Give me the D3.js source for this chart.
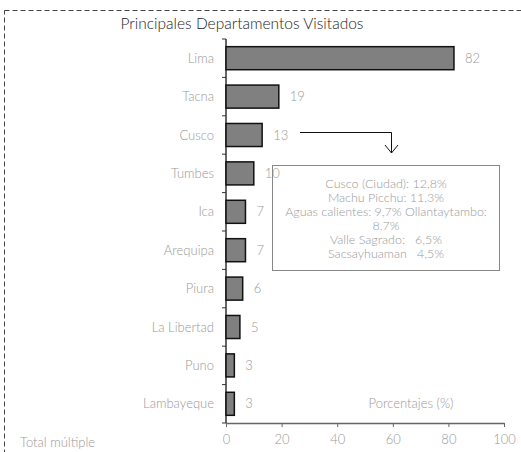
<!DOCTYPE html>
<html>
<head>
<meta charset="utf-8">
<script src="https://cdn.jsdelivr.net/npm/d3@7"></script>
<style>
  body { margin: 0; background: #fff; }
  text { font-family: Lato, "Open Sans", sans-serif; font-weight: 300; }
</style>
</head>
<body>
<div class="chart"></div>
<script>
// datos del gráfico
var departamentos = ["Lima", "Tacna", "Cusco", "Tumbes", "Ica", "Arequipa", "Piura", "La Libertad", "Puno", "Lambayeque"];
var valores = [82, 19, 13, 10, 7, 7, 6, 5, 3, 3];
var ticksX = [0, 20, 40, 60, 80, 100];
var notaCusco = ["Cusco (Ciudad): 12,8%", "Machu Picchu: 11,3%", "Aguas calientes: 9,7% Ollantaytambo:", "8,7%", "Valle Sagrado:   6,5%", "Sacsayhuaman   4,5%"];

var W = 521, H = 452;
var margin = {top: 39, left: 226, right: 17, bottom: 29};
var w = W - margin.left - margin.right;
var h = H - margin.top - margin.bottom;

var svg = d3.select(".chart").append("svg")
    .attr("width", W).attr("height", H);

// marco punteado
svg.append("rect")
    .attr("x", 4.5).attr("y", 10.5)
    .attr("width", 530).attr("height", 460)
    .attr("fill", "none").attr("stroke", "#444")
    .attr("stroke-dasharray", "5,3");

svg.append("text")
    .attr("x", 242).attr("y", 29)
    .attr("text-anchor", "middle")
    .attr("font-size", 15.5).attr("fill", "#222")
    .text("Principales Departamentos Visitados");

var g = svg.append("g")
    .attr("transform", "translate(" + margin.left + "," + margin.top + ")");

var x = d3.scaleLinear().domain([0, 100]).range([0, w]);
var yb = d3.scaleBand().domain(departamentos).range([0, h]);

// eje x
var xAxis = g.append("g")
    .attr("transform", "translate(0," + h + ")")
    .call(d3.axisBottom(x).tickValues(ticksX).tickSize(4).tickSizeOuter(0));
xAxis.select(".domain").attr("stroke", "#666").attr("stroke-width", 1.5);
xAxis.selectAll(".tick line").attr("stroke", "#666");
xAxis.selectAll("text").attr("fill", "#999").attr("font-size", 13).attr("dy", "1.1em")
    .style("font-family", null);

// eje y: marcas entre categorías
var yAxisG = g.append("g");
yAxisG.append("line").attr("x1", 0).attr("x2", 0).attr("y1", 0).attr("y2", h)
    .attr("stroke", "#333").attr("stroke-width", 1.5);
yAxisG.selectAll(".tk").data(d3.range(departamentos.length + 1)).enter()
    .append("line")
    .attr("x1", -4).attr("x2", 0)
    .attr("y1", function(i) { return i * yb.step(); })
    .attr("y2", function(i) { return i * yb.step(); })
    .attr("stroke", "#333");

g.selectAll(".cat").data(departamentos).enter()
    .append("text")
    .attr("x", -12)
    .attr("y", function(d) { return yb(d) + yb.bandwidth() / 2; })
    .attr("dy", "0.35em")
    .attr("text-anchor", "end")
    .attr("font-size", 13).attr("fill", "#999")
    .text(function(d) { return d; });

g.selectAll(".bar").data(valores).enter()
    .append("rect")
    .attr("x", 0)
    .attr("y", function(d, i) { return yb(departamentos[i]) + yb.bandwidth() * 0.2; })
    .attr("width", function(d) { return x(d); })
    .attr("height", yb.bandwidth() * 0.6)
    .attr("fill", "#808080").attr("stroke", "#111").attr("stroke-width", 1.5);

g.selectAll(".val").data(valores).enter()
    .append("text")
    .attr("x", function(d) { return x(d) + 11; })
    .attr("y", function(d, i) { return yb(departamentos[i]) + yb.bandwidth() / 2; })
    .attr("dy", "0.35em")
    .attr("font-size", 13).attr("fill", "#999")
    .text(function(d) { return d; });

// nota de Cusco con flecha
svg.append("path")
    .attr("d", "M300,132.5H391.5V153M385,145L391.5,153L398,145")
    .attr("fill", "none").attr("stroke", "#111").attr("stroke-width", 1);

svg.append("rect")
    .attr("x", 272.5).attr("y", 165.5).attr("width", 227).attr("height", 105)
    .attr("fill", "none").attr("stroke", "#888").attr("stroke-width", 1);

svg.append("g").selectAll("text").data(notaCusco).enter()
    .append("text")
    .attr("x", 386)
    .attr("y", function(d, i) { return 188 + i * 14; })
    .attr("text-anchor", "middle")
    .attr("font-size", 12.5).attr("fill", "#999")
    .attr("xml:space", "preserve")
    .style("white-space", "pre")
    .text(function(d) { return d; });

svg.append("text")
    .attr("x", 411).attr("y", 408)
    .attr("text-anchor", "middle")
    .attr("font-size", 13).attr("fill", "#999")
    .text("Porcentajes (%)");

svg.append("text")
    .attr("x", 20).attr("y", 447)
    .attr("font-size", 13).attr("fill", "#999")
    .text("Total múltiple");
</script>
</body>
</html>
